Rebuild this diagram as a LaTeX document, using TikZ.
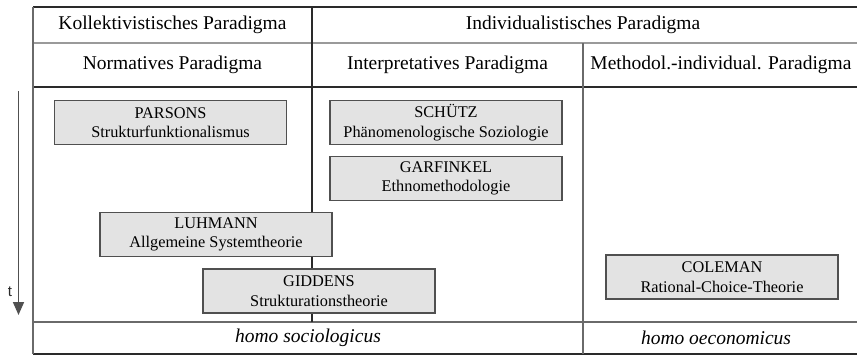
\documentclass[tikz,border=0pt]{standalone}
\usepackage{fontspec}
\setmainfont{Liberation Serif}
\newfontfamily\tsans{Liberation Sans}
\usetikzlibrary{arrows.meta}
\definecolor{boxfill}{HTML}{E3E3E3}
\definecolor{boxline}{HTML}{505050}
\definecolor{darkline}{HTML}{2A2A2A}
\definecolor{midline}{HTML}{6A6A6A}
\definecolor{lightline}{HTML}{9A9A9A}
\tikzset{
  hdr/.style={font=\fontsize{19.5}{22}\selectfont, inner sep=0pt, anchor=center},
  foot/.style={font=\fontsize{19.5}{22}\selectfont\itshape, inner sep=0pt, anchor=center},
  theory/.style={draw=boxline, fill=boxfill, line width=1.8pt, minimum width=232pt, minimum height=44pt,
    inner sep=0pt, align=center, font=\fontsize{16.3}{19.5}\selectfont},
}
\begin{document}
\begin{tikzpicture}[x=1pt,y=-1pt]
\useasboundingbox (0,0) rectangle (857,356);
% table lines
\draw[darkline, line width=1.5pt] (33,7) -- (857,7);
\draw[lightline, line width=1.5pt] (33,43) -- (857,43);
\draw[darkline, line width=1.5pt] (33,87) -- (857,87);
\draw[midline, line width=1.5pt] (33,322) -- (857,322);
\draw[darkline, line width=1.5pt] (33,354) -- (857,354);
\draw[midline, line width=1.2pt] (33,7) -- (33,354);
\draw[darkline, line width=1.2pt] (312,7) -- (312,322);
\draw[midline, line width=1.2pt] (583,43) -- (583,354);
% headers
\node[hdr] (kol) at (172.5,25) {Kollektivistisches Paradigma};
\node[hdr] (ind) at (583,25) {Individualistisches Paradigma};
\node[hdr] (nor) at (172.5,65) {Normatives Paradigma};
\node[hdr] (int) at (447.5,65) {Interpretatives Paradigma};
\node[hdr] (met) at (721,65) {Methodol.-individual. Paradigma};
% footer
\node[foot] (hs) at (308,338) {homo sociologicus};
\node[foot] (ho) at (716,338) {homo oeconomicus};
% theory boxes
\node[theory] (parsons) at (170.5,122.5) {PARSONS\\Strukturfunktionalismus};
\node[theory] (schuetz) at (446,122.5) {SCHÜTZ\\Phänomenologische Soziologie};
\node[theory] (garfinkel) at (446,178.5) {GARFINKEL\\Ethnomethodologie};
\node[theory] (luhmann) at (216,234.5) {LUHMANN\\Allgemeine Systemtheorie};
\node[theory] (giddens) at (319,291) {GIDDENS\\Strukturationstheorie};
\node[theory] (coleman) at (722,277) {COLEMAN\\Rational-Choice-Theorie};
% time arrow
\coordinate (t0) at (18.5,91);
\coordinate (t1) at (18.5,315);
\draw[boxline, line width=1.6pt, -{Triangle[width=11pt,length=13pt]}] (t0) -- (t1);
\node[font=\tsans\fontsize{15}{17}\selectfont, text=darkline, inner sep=0pt] (t) at (10,292) {t};
\end{tikzpicture}
\end{document}
